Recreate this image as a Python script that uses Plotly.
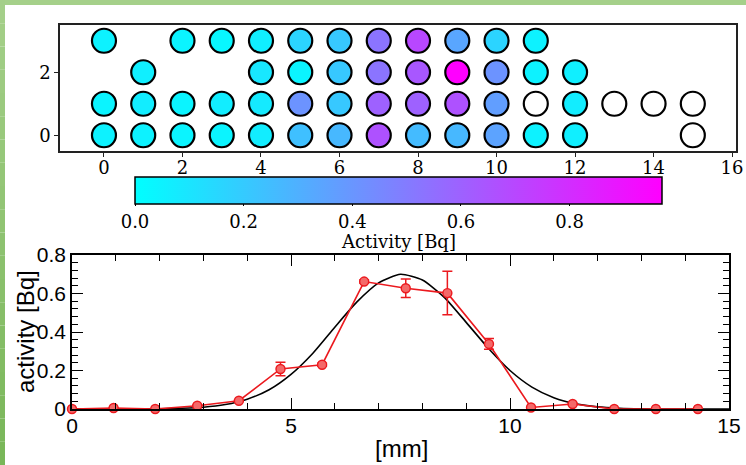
import plotly.graph_objects as go

W, H = 746, 465

# ---------------- top panel data: activity map (None = no detector, "nan" = white circle)
cols = list(range(16))
row3 = [0.05, None, 0.04, 0.03, 0.06, 0.165, 0.21, 0.53, 0.70, 0.34, 0.165, 0.05, None, None, None, None]
row2 = [None, 0.06, None, None, 0.09, 0.04, 0.21, 0.53, 0.64, 0.97, 0.41, 0.05, 0.06, None, None, None]
row1 = [0.04, 0.07, 0.04, 0.07, 0.08, 0.41, 0.21, 0.60, 0.60, 0.66, 0.37, "nan", 0.07, "nan", "nan", "nan"]
row0 = [0.05, 0.05, 0.04, 0.04, 0.07, 0.24, 0.27, 0.66, 0.26, 0.27, 0.35, 0.05, 0.06, None, None, "nan"]
rows = {3: row3, 2: row2, 1: row1, 0: row0}
cmax = 0.97

# ---------------- bottom panel data
pos_mm = [0, 0.95, 1.9, 2.86, 3.81, 4.76, 5.71, 6.67, 7.62, 8.57, 9.52, 10.48, 11.43, 12.38, 13.33, 14.29]
act = [0.0, 0.005, 0.0, 0.017, 0.043, 0.208, 0.23, 0.662, 0.627, 0.602, 0.338, 0.008, 0.026, 0.0, 0.0, 0.0]
act_err = [0, 0, 0, 0.004, 0.004, 0.035, 0.008, 0.008, 0.048, 0.113, 0.028, 0, 0.004, 0, 0, 0]

fit_x = [0, 0.5, 1, 1.5, 2, 2.5, 3, 3.5, 4, 4.5, 5, 5.5, 6, 6.5, 7, 7.5, 8, 8.5, 9, 9.5,
         10, 10.5, 11, 11.5, 12, 12.5, 13, 13.5, 14, 14.5, 15]
fit_y = [0, 0, 0, 0, 0.001, 0.004, 0.009, 0.023, 0.051, 0.10, 0.18, 0.29, 0.425, 0.555, 0.655, 0.70,
         0.67, 0.58, 0.45, 0.317, 0.20, 0.114, 0.059, 0.027, 0.011, 0.004, 0.001, 0, 0, 0, 0]

top_xticks = [0, 2, 4, 6, 8, 10, 12, 14, 16]
top_yticks = [0, 2]
cb_ticks = [0.0, 0.2, 0.4, 0.6, 0.8]
cb_ticktext = ["0.0", "0.2", "0.4", "0.6", "0.8"]
bot_xticks = [0, 5, 10, 15]
bot_yticks = [0, 0.2, 0.4, 0.6, 0.8]
bot_yticktext = ["0", "0.2", "0.4", "0.6", "0.8"]

SERIF = "DejaVu Serif"
SANS = "Liberation Sans, Arial"

cx, cy, cv, ex, ey = [], [], [], [], []
for r, vals in rows.items():
    for c, v in zip(cols, vals):
        if v is None:
            continue
        if v == "nan":
            ex.append(c); ey.append(r)
        else:
            cx.append(c); cy.append(r); cv.append(v)


def px_x(p):
    return p / W


def px_y(p):
    return 1 - p / H


fig = go.Figure()

fig.add_trace(go.Scatter(
    x=ex, y=ey, mode="markers", xaxis="x", yaxis="y", showlegend=False,
    marker=dict(size=24, color="white", line=dict(color="black", width=2.2)),
))
fig.add_trace(go.Scatter(
    x=cx, y=cy, mode="markers", xaxis="x", yaxis="y", showlegend=False,
    marker=dict(
        size=24, color=cv, cmin=0, cmax=cmax,
        colorscale=[[0, "rgb(0,255,255)"], [1, "rgb(255,0,255)"]],
        line=dict(color="black", width=2.2),
        colorbar=dict(
            orientation="h", x=(135 + 662) / 2 / W, xanchor="center",
            y=px_y(177), yanchor="top", len=527, lenmode="pixels",
            thickness=27, thicknessmode="pixels", xpad=0, ypad=0,
            outlinewidth=1.5, outlinecolor="black",
            tickvals=cb_ticks, ticktext=cb_ticktext, ticks="outside", ticklen=2,
            tickcolor="black", tickfont=dict(family=SERIF, size=18, color="black"),
        ),
    ),
))

fig.add_trace(go.Scatter(
    x=fit_x, y=fit_y, mode="lines", xaxis="x2", yaxis="y2", showlegend=False,
    line=dict(color="black", width=1.6, shape="spline", smoothing=0.6),
))
fig.add_trace(go.Scatter(
    x=pos_mm, y=act, mode="lines+markers", xaxis="x2", yaxis="y2", showlegend=False,
    cliponaxis=False,
    line=dict(color="rgb(235,25,30)", width=1.6),
    marker=dict(size=9, color="rgb(244,105,105)", line=dict(color="rgb(235,25,30)", width=1.4)),
    error_y=dict(type="data", array=act_err, visible=True, color="rgb(235,25,30)",
                 thickness=1.5, width=5),
))

fig.update_layout(
    width=W, height=H, margin=dict(l=0, r=0, t=0, b=0, pad=0, autoexpand=False),
    paper_bgcolor="white", plot_bgcolor="white",
    xaxis=dict(domain=[px_x(60), px_x(736)], range=[-1.12, 16.1], anchor="y",
               showline=True, linecolor="#222", linewidth=1.5, mirror=True,
               showgrid=False, zeroline=False, ticks="outside", ticklen=4,
               tickcolor="#222", tickvals=top_xticks, ticklabelstandoff=-4,
               tickfont=dict(family=SERIF, size=18, color="black")),
    yaxis=dict(domain=[px_y(151), px_y(25)], range=[-0.5, 3.5], anchor="x",
               showline=True, linecolor="#222", linewidth=1.5, mirror=True,
               showgrid=False, zeroline=False, ticks="outside", ticklen=4,
               tickcolor="#222", tickvals=top_yticks,
               tickfont=dict(family=SERIF, size=18, color="black")),
    xaxis2=dict(domain=[px_x(72), px_x(729)], range=[0, 15], anchor="y2",
                showline=True, linecolor="black", linewidth=1.5, mirror="ticks",
                showgrid=False, zeroline=False, ticks="inside", ticklen=11,
                tickwidth=1.3, tickcolor="black", tickvals=bot_xticks, ticklabelstandoff=-3,
                minor=dict(dtick=1, ticks="inside", ticklen=6, tickwidth=1.3, tickcolor="black"),
                tickfont=dict(family=SANS, size=21, color="black")),
    yaxis2=dict(domain=[px_y(409), px_y(255)], range=[0, 0.8], anchor="x2",
                showline=True, linecolor="black", linewidth=1.5, mirror="ticks",
                showgrid=False, zeroline=False, ticks="inside", ticklen=11,
                tickwidth=1.3, tickcolor="black", tickvals=bot_yticks,
                ticktext=bot_yticktext,
                minor=dict(dtick=0.04, ticks="inside", ticklen=6, tickwidth=1.3, tickcolor="black"),
                tickfont=dict(family=SANS, size=21, color="black")),
    annotations=[
        dict(text="Activity [Bq]", x=px_x(398), y=px_y(241), xref="paper", yref="paper",
             showarrow=False, xanchor="center", yanchor="middle",
             font=dict(family=SERIF, size=18, color="black")),
        dict(text="activity [Bq]", x=px_x(25), y=px_y(332), xref="paper", yref="paper",
             textangle=-90, showarrow=False, xanchor="center", yanchor="middle",
             font=dict(family=SANS, size=24, color="black")),
        dict(text="[mm]", x=px_x(401), y=px_y(448), xref="paper", yref="paper",
             showarrow=False, xanchor="center", yanchor="middle",
             font=dict(family=SANS, size=24, color="black")),
    ],
)

# green frame: top strip and left strip with a vertical gradient
shapes = [dict(type="rect", xref="paper", yref="paper", x0=0, x1=1, y0=px_y(5), y1=1,
               fillcolor="rgb(165,208,138)", line=dict(width=0), layer="above")]
n = 20
top_c = (165, 208, 138)
bot_c = (120, 182, 88)
for i in range(n):
    f = (i + 0.5) / n
    c = tuple(int(round(top_c[k] + (bot_c[k] - top_c[k]) * f)) for k in range(3))
    shapes.append(dict(type="rect", xref="paper", yref="paper", x0=0, x1=px_x(5),
                       y0=1 - (i + 1) / n, y1=1 - i / n,
                       fillcolor="rgb(%d,%d,%d)" % c, line=dict(width=0), layer="above"))
fig.update_layout(shapes=shapes)

fig.write_html("out.html")
